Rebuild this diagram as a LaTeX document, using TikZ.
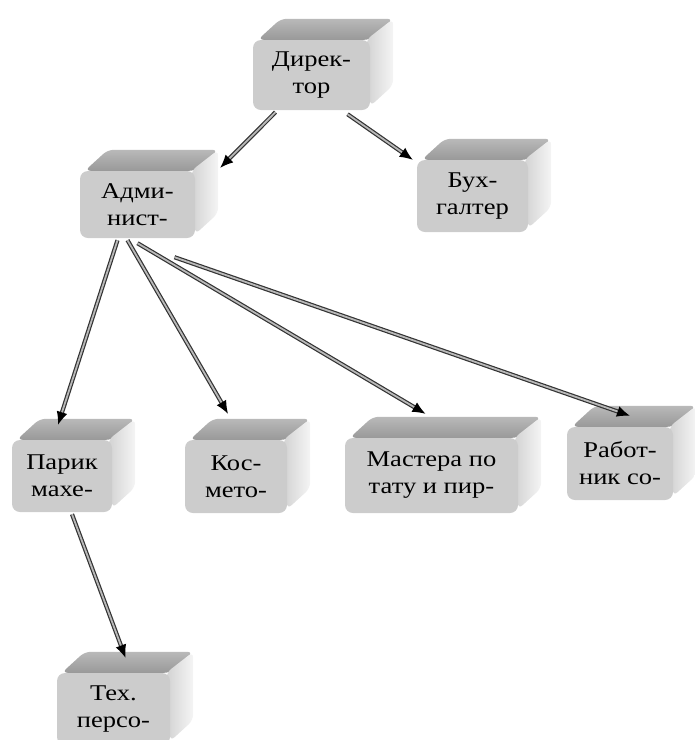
\documentclass[tikz,border=0pt]{standalone}
\usepackage{fontspec}
\setmainfont{Liberation Serif}[FakeStretch=1.18]
\usepackage{tikz}
\usetikzlibrary{arrows.meta, positioning, calc, backgrounds}
\tikzstyle{bloque} = [fill=gray!40, rounded corners=8pt, align=center, inner sep=2pt, font=\fontsize{22.5}{27}\selectfont]
\tikzstyle{cara} = [rounded corners=6pt]
\tikzstyle{flecha} = [draw=black!80, double=gray!55, double distance=1.8pt, line width=1.2pt, -{Latex[length=13pt,width=11pt,black]}]
\newcommand{\cubo}[1]{%
	\begin{scope}[on background layer]
		\shade[cara, top color=gray!55, bottom color=gray!80] ([shift={(5,0)}]#1.north west) -- ++(23,-21) -- ([shift={(23,-21)}]#1.north east) -- (#1.north east) -- cycle;
		\shade[cara, left color=gray!35, right color=gray!8] ([shift={(-4,0)}]#1.north east) -- ++(27,-21) -- ([shift={(23,-25)}]#1.south east) -- ([shift={(0,-4)}]#1.south east) -- cycle;
	\end{scope}}

\begin{document}
\begin{tikzpicture}[x=1pt, y=-1pt]
	\useasboundingbox (0,0) rectangle (695,740);
	\node[bloque, minimum width=117pt, minimum height=70pt] (dir) at (311.5,75) {Дирек-\\тор};
	\node[bloque, minimum width=115pt, minimum height=67pt] (adm) at (137.5,204.5) {Адми-\\нист-};
	\node[bloque, minimum width=111pt, minimum height=72pt] (buh) at (472.5,196) {Бух-\\галтер};
	\node[bloque, minimum width=100pt, minimum height=72pt] (par) at (62,476) {Парик\\махе-};
	\node[bloque, minimum width=102pt, minimum height=73pt] (kos) at (236,476.5) {Кос-\\мето-};
	\node[bloque, minimum width=173pt, minimum height=75pt] (mas) at (431.5,475.5) {Мастера по\\тату и пир-};
	\node[bloque, minimum width=106pt, minimum height=73pt] (rab) at (620,463.5) {Работ-\\ник со-};
	\node[bloque, minimum width=113pt, minimum height=72pt] (teh) at (113.5,709) {Тех.\\персо-};
	\foreach \n in {dir, adm, buh, par, kos, mas, rab, teh} {\cubo{\n}}
	\draw[flecha] ([shift={(-36,2)}]dir.south) -- ([shift={(25,-3)}]adm.north east);
	\draw[flecha] ([shift={(36,4)}]dir.south) -- ([shift={(-4,0)}]buh.north west);
	\draw[flecha] ([shift={(-20,2)}]adm.south) -- ([shift={(-4,-15)}]par.north);
	\draw[flecha] ([shift={(-10,2)}]adm.south) -- ([shift={(-8,-26)}]kos.north);
	\draw[flecha] ([shift={(0,5)}]adm.south) -- ([shift={(-6,-24)}]mas.north);
	\draw[flecha] ([shift={(37,19)}]adm.south) -- ([shift={(10,-11)}]rab.north);
	\draw[flecha] ([shift={(10,2)}]par.south) -- ([shift={(12,-15)}]teh.north);
\end{tikzpicture}
\end{document}
